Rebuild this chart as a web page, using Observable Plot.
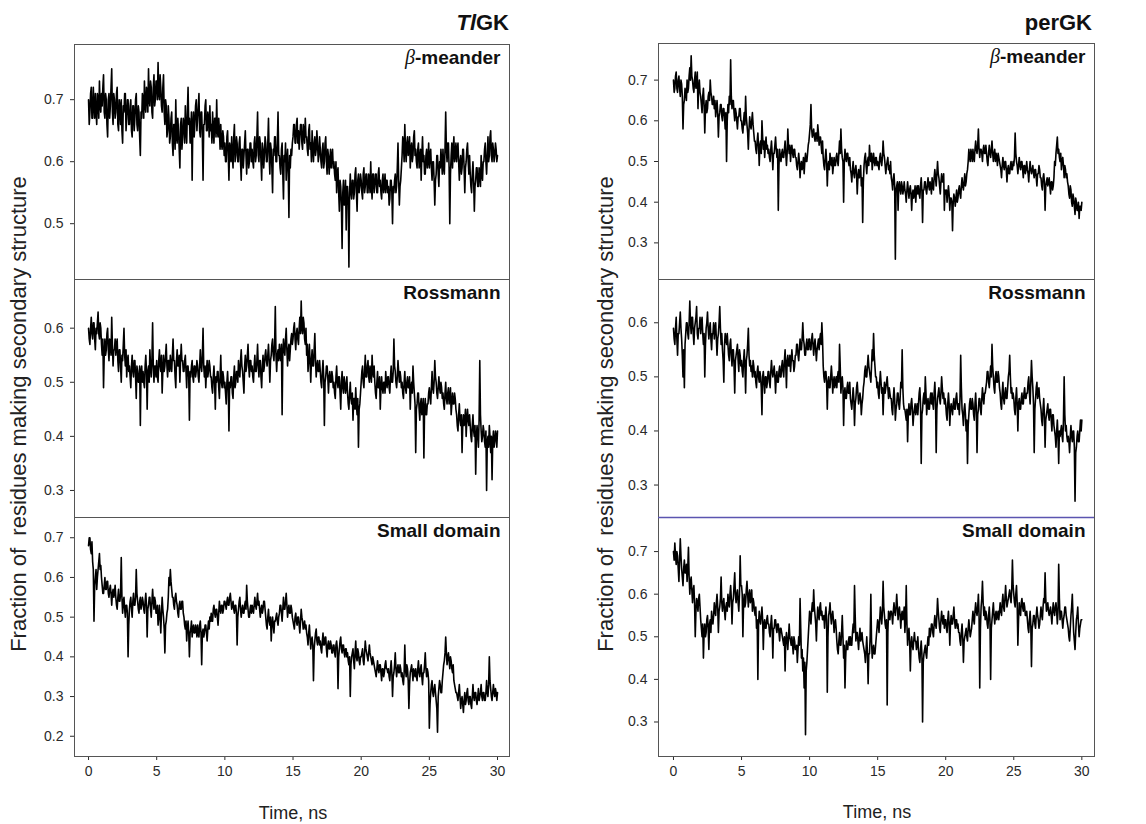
<!DOCTYPE html>
<html>
<head>
<meta charset="utf-8">
<script src="https://cdn.jsdelivr.net/npm/d3@7"></script>
<script src="https://cdn.jsdelivr.net/npm/@observablehq/plot@0.6"></script>
<style>
  html, body { margin: 0; padding: 0; background: #fff; }
  #chart { position: relative; width: 1146px; height: 824px; background: #fff; font-family: "Liberation Sans", Arial, sans-serif; color: #111; overflow: hidden; }
  #chart svg { position: absolute; }
  .title { position: absolute; font-weight: bold; font-size: 22px; line-height: 22px; white-space: nowrap; }
  .ylab { position: absolute; width: 600px; text-align: center; font-size: 22px; line-height: 24px; transform: rotate(-90deg); transform-origin: 50% 50%; white-space: pre; color: #222; }
  .xlab { position: absolute; width: 200px; text-align: center; font-size: 18px; line-height: 20px; color: #222; }
</style>
</head>
<body>
<div id="chart"></div>
<script>
// ---- Data (fraction of residues making secondary structure, in hundredths) ----
// Main samples every 0.1 ns from 0 to 30 ns; "Mid" samples read half-way between them.
const tlgkMeander = [
70,68,72,67,69,71,66,70,73,68, 69,74,67,70,64,71,69,75,66,70,
68,72,65,69,70,63,68,71,67,70, 66,70,64,69,67,71,65,68,61,67,
70,73,68,71,75,69,72,67,74,70, 73,76,70,72,68,74,66,69,65,67,
64,68,61,66,70,63,65,59,67,64, 66,69,63,72,67,65,57,68,66,70,
67,71,64,68,57,66,70,65,67,69, 66,68,63,67,70,64,65,66,62,64,
63,60,65,57,62,64,59,66,61,63, 60,64,57,62,61,65,58,62,60,63,
62,59,64,61,68,60,63,57,62,61, 63,60,67,58,62,55,61,64,60,68,
61,58,63,54,60,57,62,51,59,61, 64,66,63,67,65,64,66,62,65,67,
64,61,66,63,65,60,64,62,63,61, 62,59,63,60,64,58,61,60,59,62,
60,57,55,59,52,56,46,57,54,49, 56,43,58,54,57,55,59,52,58,56,
57,54,59,56,58,55,57,60,54,58, 56,58,55,59,57,54,58,56,55,57,
56,54,57,50,55,58,56,63,53,57, 61,63,66,60,64,62,59,63,61,65,
62,59,63,60,57,64,61,58,62,60, 59,62,57,60,53,58,61,56,59,60,
62,58,68,60,63,50,61,59,64,61, 60,63,57,61,59,62,55,60,63,58,
58,55,60,52,57,59,56,58,61,57, 60,63,58,64,61,65,60,62,61,62,
61];
const tlgkMeanderMid = [
66,71,67,72,67,68,71,67,69,71, 72,68,71,66,70,67,72,68,71,67,
71,66,70,66,65,69,71,65,70,66, 69,65,69,65,70,66,69,64,68,71,
67,69,72,68,70,73,68,72,69,73, 70,71,74,69,72,68,70,64,69,63,
67,63,66,62,64,67,62,66,62,67, 63,65,68,66,63,68,66,64,69,65,
69,65,68,64,66,69,65,68,64,65, 63,65,67,64,65,67,62,63,65,61,
60,64,61,63,60,61,64,60,64,60, 63,60,62,59,63,61,62,59,63,60,
60,63,60,64,61,64,60,63,59,64, 60,63,61,63,59,62,64,60,63,61,
59,62,58,61,63,60,58,61,62,63, 66,63,66,63,62,66,63,66,63,64,
62,65,62,60,62,63,61,65,60,64, 60,62,59,63,60,62,58,62,61,59,
58,60,58,55,57,53,55,53,57,56, 53,55,55,57,54,58,55,57,55,58,
55,58,55,58,55,58,55,56,58,55, 58,55,58,56,55,57,55,58,57,55,
53,57,55,56,57,55,59,57,56,59, 64,60,62,63,61,64,62,60,64,61,
60,62,59,62,61,60,58,61,59,63, 61,59,60,57,57,61,58,60,62,58,
59,62,62,63,59,58,63,62,60,63, 62,60,60,58,62,59,59,62,60,61,
56,58,57,56,59,56,59,56,58,60, 62,60,61,60,64,61,63,60,63,60];
const tlgkRossmann = [
60,57,62,58,61,56,59,63,58,60, 55,49,58,56,60,54,57,62,53,56,
55,58,52,56,50,54,60,53,51,55, 53,49,55,51,54,47,52,50,42,53,
52,49,55,45,53,56,51,61,50,53, 54,50,56,52,48,55,53,57,51,54,
55,52,58,54,49,56,53,50,57,54, 52,55,49,53,43,51,54,50,53,52,
53,50,56,52,60,51,49,54,52,53, 51,48,53,45,50,52,47,55,49,51,
50,46,52,41,49,51,47,53,50,52, 54,51,56,52,48,55,53,57,51,54,
53,50,55,52,57,51,54,49,55,53, 56,53,57,50,55,58,54,64,52,56,
57,54,44,58,55,60,53,57,56,59, 58,61,56,60,57,62,65,59,61,57,
55,52,57,50,56,53,59,51,54,52, 52,49,54,42,51,53,48,52,50,51,
50,47,53,49,51,45,52,48,50,49, 48,45,50,46,43,47,49,44,38,46,
50,53,49,55,51,54,50,52,55,51, 50,47,52,49,45,51,48,50,52,49,
51,48,53,50,58,52,49,54,50,51, 50,47,52,48,51,49,45,50,53,48,
37,46,48,43,47,45,36,47,44,46, 49,46,52,48,54,50,47,51,48,49,
48,45,50,46,49,47,44,48,46,47, 44,41,46,42,37,44,43,40,45,42,
42,39,44,40,33,42,38,54,41,40, 41,38,30,40,42,37,32,41,39,40,
41];
const tlgkRossmannMid = [
58,60,59,61,58,60,61,59,61,57, 58,55,55,59,56,58,55,57,56,58,
57,54,56,53,55,57,55,56,54,52, 51,53,52,54,51,53,50,53,52,50,
50,53,52,52,50,53,54,53,53,51, 51,54,53,55,52,52,55,53,54,52,
53,55,54,51,54,53,55,54,54,52, 54,52,53,51,52,53,51,53,51,54,
51,53,53,55,53,53,52,51,54,51, 49,51,50,51,52,49,51,50,52,49,
48,50,49,50,51,48,51,49,52,50, 52,54,53,50,53,52,55,53,54,52,
51,53,52,54,53,54,51,53,52,55, 54,55,54,54,57,55,57,55,55,54,
55,57,55,56,58,56,56,54,58,57, 60,58,59,58,60,59,60,62,58,60,
57,54,54,54,53,56,54,53,52,54, 50,52,51,50,53,51,51,50,52,49,
48,51,50,51,48,50,49,51,48,51, 46,48,47,48,47,45,46,47,45,48,
52,50,52,51,53,51,53,50,52,53, 48,50,49,51,49,49,50,48,50,51,
49,51,50,52,53,50,51,52,52,49, 48,50,49,50,49,51,49,48,50,46,
45,48,45,46,44,47,45,44,46,48, 47,49,49,50,51,48,49,49,50,47,
46,48,47,48,46,49,46,46,48,45, 42,44,43,44,42,42,45,43,43,44,
40,42,41,42,40,40,43,44,39,42, 39,41,39,38,40,40,39,38,41,38];
const tlgkSmall = [
68,70,66,64,49,60,57,62,66,63, 58,56,60,57,59,55,58,53,57,56,
55,52,57,54,65,51,55,50,53,40, 52,55,50,56,53,62,54,51,55,53,
54,51,56,45,53,55,50,57,52,54, 51,48,53,46,55,50,41,49,52,60,
62,57,55,52,56,53,50,54,52,54, 50,47,44,49,40,47,45,48,46,47,
48,45,49,38,47,46,48,44,49,50, 51,49,53,50,52,48,54,51,53,52,
54,52,55,53,56,52,54,51,53,43, 52,55,50,53,51,54,58,52,50,53,
53,51,55,52,56,54,50,53,52,54, 50,47,52,48,44,50,46,49,51,48,
51,53,49,55,52,56,50,53,51,52, 49,47,51,48,50,46,52,49,48,47,
46,43,48,42,45,34,44,47,43,45, 44,41,46,43,45,40,44,42,43,41,
43,40,44,32,42,45,41,43,40,42, 41,38,30,40,42,37,44,39,41,38,
40,42,38,44,41,39,43,40,38,39, 37,35,39,36,38,34,37,36,39,37,
37,34,39,30,36,41,35,38,36,37, 36,33,43,35,37,27,36,38,34,36,
37,34,39,35,38,33,36,41,35,36, 22,31,34,30,33,29,21,32,33,31,
36,39,45,38,41,37,39,36,34,32, 31,29,33,27,30,26,31,29,32,28,
30,27,33,29,31,28,32,30,33,29, 31,29,34,30,40,32,29,33,30,31,
31];
const tlgkSmallMid = [
70,67,69,62,58,62,60,64,62,60, 56,58,57,59,56,57,56,56,55,58,
53,55,54,56,55,54,52,53,51,48, 54,52,54,53,55,56,52,54,52,55,
52,54,53,52,55,52,54,54,55,51, 53,50,50,51,52,47,48,51,55,58,
59,55,53,55,54,51,53,52,54,51, 48,49,47,46,46,49,47,46,48,45,
46,48,46,46,45,48,46,47,47,49, 49,52,51,52,50,51,52,53,51,54,
53,54,53,55,54,53,52,53,51,50, 54,52,52,51,53,52,54,50,52,51,
52,53,53,54,53,52,52,51,54,52, 48,50,49,50,48,48,49,50,49,50,
53,51,52,52,54,53,52,51,53,50, 48,50,49,50,48,49,50,47,49,48,
45,46,45,44,43,42,46,44,45,43, 42,44,43,45,42,43,42,44,41,43,
41,43,42,40,44,42,43,41,42,40, 39,40,38,41,39,41,40,42,39,40,
41,39,41,42,40,41,41,39,40,38, 36,37,37,38,36,37,35,38,37,36,
35,37,36,35,38,37,37,36,38,35, 34,36,37,38,34,33,37,36,37,35,
35,37,36,37,35,36,38,37,37,34, 28,33,31,32,31,27,30,34,31,34,
38,41,41,40,39,40,37,38,33,31, 30,31,30,29,28,29,28,31,29,30,
28,30,30,31,29,30,29,31,30,31, 29,31,31,33,34,30,31,31,32,29];
const pergkMeander = [
70,68,72,67,71,66,69,58,65,67, 70,68,73,76,70,67,72,69,63,70,
66,62,68,57,65,63,67,70,66,64, 63,61,65,56,62,64,60,63,58,50,
64,66,75,63,65,60,62,58,61,63, 60,57,62,66,59,53,61,58,62,57,
55,52,57,49,55,60,53,51,56,54, 53,50,55,48,52,56,51,38,53,50,
53,51,55,49,58,52,50,54,51,53, 51,48,52,46,50,49,47,52,50,54,
57,64,56,58,55,57,59,54,56,52, 51,48,53,44,50,52,49,47,51,49,
52,49,55,58,51,40,53,50,52,49, 48,45,50,46,49,42,48,47,44,35,
49,52,47,51,54,50,48,52,49,51, 50,48,52,49,55,51,47,50,48,47,
46,43,47,26,44,38,45,42,44,43, 43,40,45,41,44,38,43,42,40,44,
44,41,46,35,43,45,42,46,43,44, 46,43,48,44,50,46,42,47,45,38,
42,40,44,38,41,33,42,39,43,41, 44,41,46,43,47,45,48,53,50,52,
53,50,55,52,58,51,53,50,54,52, 52,49,54,51,55,50,53,52,49,51,
49,46,51,48,50,45,49,47,50,48, 49,57,50,47,51,48,50,46,49,48,
48,45,50,47,49,46,48,44,47,48, 46,43,47,38,45,44,46,42,45,44,
50,52,56,53,50,48,51,46,48,47, 44,41,43,39,41,37,40,38,36,39,
40];
const pergkMeanderMid = [
67,71,68,70,68,70,66,64,68,65, 67,71,70,71,68,70,68,72,68,67,
64,66,64,63,62,66,65,67,64,66, 65,63,62,61,64,61,63,61,62,60,
62,64,66,65,62,63,60,61,63,60, 58,60,59,61,57,58,59,60,59,55,
53,55,54,54,52,56,55,54,53,52, 51,53,52,52,54,53,53,49,51,52,
51,53,52,52,54,54,53,52,53,51, 49,50,50,49,48,51,50,50,52,55,
59,58,57,56,57,55,57,56,54,55, 49,51,50,49,48,50,51,49,49,51,
50,52,52,53,50,50,51,52,50,51, 47,48,47,48,47,46,46,49,46,45,
51,49,50,49,51,52,50,50,51,49, 49,51,50,51,52,49,49,51,49,50,
45,46,44,43,45,44,43,45,42,45, 42,43,43,43,42,42,41,44,43,42,
42,44,43,43,45,43,44,44,45,42, 44,46,46,47,47,44,45,45,47,43,
43,42,42,41,40,40,41,41,40,43, 42,44,44,45,44,47,50,51,53,50,
51,53,53,54,53,53,52,53,52,54, 50,52,52,53,52,52,50,51,52,50,
48,49,49,50,48,48,47,49,48,50, 51,52,49,49,49,50,48,49,47,50,
47,48,48,48,47,48,46,47,49,46, 44,46,45,44,46,45,44,45,43,46,
49,54,52,51,52,50,49,49,46,45, 42,44,40,42,39,41,38,40,39,38];
const pergkRossmann = [
59,56,61,54,58,62,57,50,48,58, 60,57,64,58,61,56,60,63,57,59,
58,61,56,50,59,62,57,60,55,58, 57,60,54,58,63,56,55,49,58,56,
56,53,57,52,55,47,54,56,51,54, 53,50,55,47,54,59,52,51,50,52,
51,48,52,49,50,43,51,47,50,49, 51,48,53,50,52,47,51,49,52,50,
53,50,55,48,54,52,51,55,53,52, 54,56,53,57,55,60,56,54,57,55,
57,55,58,54,57,53,56,55,58,60, 52,49,51,44,50,48,52,47,50,49,
48,51,56,47,50,41,48,46,49,47, 46,44,48,41,46,49,45,47,43,46,
49,52,50,54,51,49,55,58,52,50, 49,46,51,47,43,49,48,50,46,47,
46,43,48,42,45,47,44,49,55,45, 44,42,38,45,43,46,41,44,43,45,
45,48,34,44,47,50,43,46,44,47, 47,44,49,36,46,48,45,50,46,45,
45,42,47,41,45,43,46,44,47,44, 43,54,44,41,45,40,34,43,46,44,
45,42,47,36,44,46,43,48,45,47, 49,51,48,52,56,50,47,51,49,50,
47,44,49,45,48,46,50,54,47,46, 46,43,48,40,46,44,47,45,48,46,
47,50,45,53,48,36,46,49,47,46, 44,41,46,37,43,45,42,44,40,43,
40,37,42,34,39,41,38,50,40,39, 39,36,41,38,40,27,37,40,38,42,
42];
const pergkRossmannMid = [
57,59,57,58,60,59,54,55,56,60, 58,60,60,61,58,59,61,58,59,61,
60,58,58,56,60,59,59,57,58,60, 59,57,57,60,59,58,53,56,57,58,
54,56,54,55,52,53,55,53,55,52, 51,53,52,53,56,54,53,52,53,50,
49,51,50,51,48,50,49,50,48,51, 49,51,51,51,50,50,49,51,50,52,
51,53,52,53,52,54,53,53,51,54, 56,54,55,55,57,57,54,56,55,57,
55,57,56,56,55,55,57,57,56,57, 50,51,49,49,48,50,50,49,48,50,
50,49,52,49,48,47,46,48,47,49, 45,46,46,45,48,47,46,46,45,48,
51,50,52,52,50,52,53,54,50,48, 47,49,49,48,47,47,49,48,48,46,
44,46,46,44,47,45,46,48,48,44, 43,44,43,43,45,44,43,45,44,43,
47,45,43,46,45,47,45,44,46,45, 45,47,46,44,47,46,47,48,47,46,
43,45,45,44,44,45,44,46,45,45, 46,48,43,44,43,42,41,45,44,46,
43,45,44,43,46,44,46,46,47,48, 51,49,50,50,52,48,50,49,51,48,
45,47,46,47,46,48,51,50,48,47, 44,46,45,45,44,46,45,47,46,47,
49,47,49,50,45,44,48,46,48,45, 42,44,43,42,44,43,44,42,43,41,
39,40,39,40,40,39,42,43,41,38, 38,39,39,40,37,36,39,38,40,40];
const pergkSmall = [
70,72,67,69,63,73,66,62,68,65, 63,71,60,64,58,62,50,59,56,60,
54,50,45,53,51,55,47,54,56,53, 58,55,60,51,57,64,56,59,54,58,
60,57,62,53,59,65,58,61,56,69, 62,50,60,58,63,57,61,59,56,58,
55,52,40,56,53,57,47,54,52,55, 53,50,55,45,52,54,51,53,49,52,
50,48,42,51,47,53,49,50,46,49, 47,44,50,59,45,42,38,27,44,50,
56,53,58,61,55,49,57,54,58,56, 54,52,57,37,55,58,53,56,51,54,
49,46,51,48,55,45,38,49,47,50, 50,48,53,62,49,51,47,52,50,49,
47,44,50,39,46,60,45,48,46,50, 54,51,57,53,63,55,52,34,56,54,
56,53,58,55,60,54,57,52,56,55, 51,62,48,52,42,50,47,51,49,48,
47,44,49,30,46,48,45,50,52,51, 53,50,55,52,59,54,51,56,53,52,
54,51,56,48,55,53,57,52,54,53, 51,48,53,44,50,52,49,54,50,52,
56,53,58,55,60,38,57,63,55,54, 55,52,57,40,54,58,53,56,55,54,
58,55,60,56,62,57,59,61,58,68, 60,57,62,48,58,55,59,56,57,55,
54,51,56,43,53,55,52,57,54,53, 57,54,59,65,56,58,55,57,53,58,
55,58,53,67,54,56,52,55,57,54, 52,49,55,60,51,47,54,57,50,53,
54];
const pergkSmallMid = [
68,69,70,66,68,69,64,66,65,67, 66,64,63,61,61,58,56,58,59,57,
52,53,51,50,54,52,53,51,54,55, 56,58,57,56,59,58,58,56,57,56,
58,60,59,58,62,60,60,58,60,62, 60,58,57,61,60,60,58,61,59,56,
57,54,53,54,55,54,53,52,54,53, 51,53,52,52,54,52,53,51,52,51,
49,50,49,49,50,50,48,48,50,47, 48,47,48,52,47,45,44,42,47,53,
55,56,56,57,53,54,55,57,55,54, 55,55,54,50,56,55,55,54,53,52,
47,49,48,51,50,48,45,47,49,48, 48,51,51,55,51,49,50,49,51,48,
46,47,46,46,50,49,47,46,48,52, 53,54,55,56,57,53,54,51,55,56,
55,56,56,57,57,56,55,55,54,57, 54,53,51,49,48,48,49,49,47,50,
45,47,46,44,47,46,48,48,50,53, 51,53,53,55,56,52,54,54,55,54,
52,54,53,53,53,55,54,54,52,51, 49,51,50,49,51,50,52,52,51,54,
54,56,56,57,55,52,59,58,57,56, 53,55,54,52,56,55,55,54,56,56,
56,58,57,59,59,58,60,59,61,62, 58,60,58,54,56,58,57,58,55,56,
52,54,53,52,55,53,55,55,52,55, 55,57,58,59,57,56,56,55,56,56,
57,56,56,59,56,54,54,57,55,53, 50,52,57,55,49,51,55,53,52,54];

const timeStart = 0, timeEnd = 30;
const xTicks = [0, 5, 10, 15, 20, 25, 30];
const yTicksTlMeander = [0.5, 0.6, 0.7];
const yTicksTlRossmann = [0.3, 0.4, 0.5, 0.6];
const yTicksTlSmall = [0.2, 0.3, 0.4, 0.5, 0.6, 0.7];
const yTicksPerMeander = [0.3, 0.4, 0.5, 0.6, 0.7];
const yTicksPerRossmann = [0.3, 0.4, 0.5, 0.6];
const yTicksPerSmall = [0.3, 0.4, 0.5, 0.6, 0.7];
const panelLabels = ["β-meander", "Rossmann", "Small domain"];
const proteinNames = ["TlGK", "perGK"];
const yTitle = "Fraction of  residues making secondary structure";
const xTitle = "Time, ns";

// ---- Build ----
const chart = document.getElementById("chart");
const FONT = '"Liberation Sans", Arial, sans-serif';

function toRows(main, mid) {
  const step = (timeEnd - timeStart) / (main.length - 1);
  const rows = main.map((v, i) => ({ t: timeStart + step * i, v: v / 100 }));
  mid.forEach((v, i) => rows.push({ t: timeStart + step * (i + 0.5), v: v / 100 }));
  return rows.sort((a, b) => a.t - b.t);
}

const columns = [
  { left: 0, mL: 74, mR: 64, xDomain: [-1.03, 30.88] },
  { left: 573, mL: 85, mR: 52, xDomain: [-1.1, 30.93] }
];
const rowsLayout = [
  { top: 44, bottom: 279 },
  { top: 279, bottom: 517 },
  { top: 517, bottom: 756 }
];
const panels = [
  { col: 0, row: 0, data: tlgkMeander, mid: tlgkMeanderMid, yDomain: [0.41, 0.789], yTicks: yTicksTlMeander, label: panelLabels[0] },
  { col: 0, row: 1, data: tlgkRossmann, mid: tlgkRossmannMid, yDomain: [0.25, 0.69], yTicks: yTicksTlRossmann, label: panelLabels[1] },
  { col: 0, row: 2, data: tlgkSmall, mid: tlgkSmallMid, yDomain: [0.149, 0.751], yTicks: yTicksTlSmall, label: panelLabels[2] },
  { col: 1, row: 0, data: pergkMeander, mid: pergkMeanderMid, yDomain: [0.21, 0.79], yTicks: yTicksPerMeander, label: panelLabels[0], top: 43 },
  { col: 1, row: 1, data: pergkRossmann, mid: pergkRossmannMid, yDomain: [0.24, 0.68], yTicks: yTicksPerRossmann, label: panelLabels[1] },
  { col: 1, row: 2, data: pergkSmall, mid: pergkSmallMid, yDomain: [0.219, 0.78], yTicks: yTicksPerSmall, label: panelLabels[2], blueTop: true }
];

for (const p of panels) {
  const c = columns[p.col];
  const r = rowsLayout[p.row];
  const fTop = p.top ?? r.top;
  const isBottom = p.row === 2;
  const mT = 10, mB = isBottom ? 50 : 10;
  const height = (r.bottom - fTop) + mT + mB;
  const marks = [
    Plot.line(toRows(p.data, p.mid), { x: "t", y: "v", stroke: "#000", strokeWidth: 1.6, clip: true }),
    Plot.frame({ stroke: "#555", strokeWidth: 1 }),
    Plot.text([p.label], { frameAnchor: "top-right", dx: -9, dy: 6, lineAnchor: "top", text: d => d, fontWeight: "bold", fontSize: 19, fill: "#111" })
  ];
  if (p.blueTop) marks.push(Plot.ruleY([p.yDomain[1]], { stroke: "#5b55b0", strokeWidth: 1.6 }));
  const svg = Plot.plot({
    width: 573,
    height,
    marginLeft: c.mL,
    marginRight: c.mR,
    marginTop: mT,
    marginBottom: mB,
    style: { fontFamily: FONT, fontSize: "14px", color: "#2a2a2a", background: "transparent", overflow: "visible" },
    x: isBottom
      ? { domain: c.xDomain, ticks: xTicks, tickSize: 4, tickPadding: 6, label: null, tickFormat: d3.format("d") }
      : { domain: c.xDomain, axis: null },
    y: { domain: p.yDomain, ticks: p.yTicks, tickSize: 4, tickPadding: 7, label: null, tickFormat: d3.format(".1f") },
    marks
  });
  svg.style.left = c.left + "px";
  svg.style.top = (fTop - mT) + "px";
  // italic beta in the panel label
  svg.querySelectorAll("text").forEach(t => {
    if (t.textContent === "β-meander") {
      t.textContent = "";
      const ns = "http://www.w3.org/2000/svg";
      const b = document.createElementNS(ns, "tspan");
      b.setAttribute("font-style", "italic");
      b.setAttribute("font-weight", "normal");
      b.setAttribute("font-family", '"Liberation Serif", "DejaVu Serif", serif');
      b.setAttribute("font-size", "20");
      b.textContent = "β";
      const rest = document.createElementNS(ns, "tspan");
      rest.textContent = "-meander";
      t.appendChild(b); t.appendChild(rest);
    }
  });
  chart.appendChild(svg);
}

// Titles
function addDiv(cls, html, styles) {
  const d = document.createElement("div");
  d.className = cls;
  d.innerHTML = html;
  Object.assign(d.style, styles);
  chart.appendChild(d);
  return d;
}
addDiv("title", "<i>Tl</i>GK", { right: (1146 - 509) + "px", top: "12px" });
addDiv("title", proteinNames[1], { right: (1146 - 1092) + "px", top: "12px" });
addDiv("ylab", yTitle, { left: (19 - 300) + "px", top: (414 - 12) + "px" });
addDiv("ylab", yTitle, { left: (606 - 300) + "px", top: (414 - 12) + "px" });
addDiv("xlab", xTitle, { left: (293 - 100) + "px", top: (813 - 10) + "px" });
addDiv("xlab", xTitle, { left: (877 - 100) + "px", top: (812 - 10) + "px" });
</script>
</body>
</html>
